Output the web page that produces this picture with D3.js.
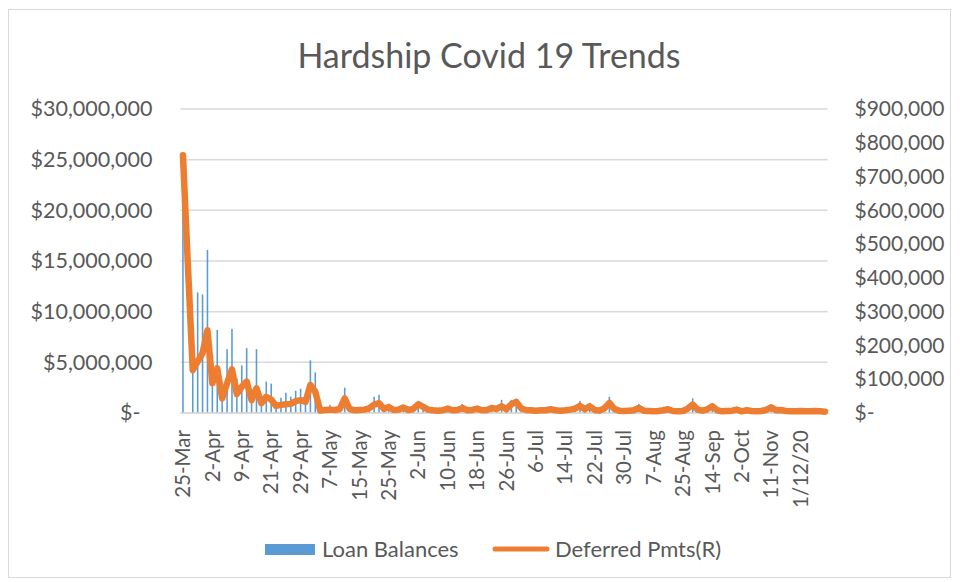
<!DOCTYPE html>
<html>
<head>
<meta charset="utf-8">
<script src="https://cdn.jsdelivr.net/npm/d3@7"></script>
<style>
  html, body { margin: 0; padding: 0; background: #fff; }
  svg { display: block; font-family: Lato, "Open Sans", sans-serif; }
  .tick text { fill: #595959; }
</style>
</head>
<body>
<svg id="chart" width="962" height="582"></svg>
<script>
/* Hardship Covid 19 trends — loan balances (bars) vs deferred payments (line, right axis). */

const categories = [
  "25-Mar", "26-Mar", "27-Mar", "30-Mar", "31-Mar", "1-Apr",
  "2-Apr", "3-Apr", "4-Apr", "6-Apr", "7-Apr", "8-Apr",
  "9-Apr", "14-Apr", "15-Apr", "16-Apr", "17-Apr", "20-Apr",
  "21-Apr", "22-Apr", "23-Apr", "24-Apr", "27-Apr", "28-Apr",
  "29-Apr", "30-Apr", "1-May", "4-May", "5-May", "6-May",
  "7-May", "8-May", "11-May", "12-May", "13-May", "14-May",
  "15-May", "18-May", "19-May", "20-May", "21-May", "22-May",
  "25-May", "26-May", "27-May", "28-May", "29-May", "1-Jun",
  "2-Jun", "3-Jun", "4-Jun", "5-Jun", "8-Jun", "9-Jun",
  "10-Jun", "11-Jun", "12-Jun", "15-Jun", "16-Jun", "17-Jun",
  "18-Jun", "19-Jun", "22-Jun", "23-Jun", "24-Jun", "25-Jun",
  "26-Jun", "29-Jun", "30-Jun", "1-Jul", "2-Jul", "3-Jul",
  "6-Jul", "7-Jul", "8-Jul", "9-Jul", "10-Jul", "13-Jul",
  "14-Jul", "15-Jul", "16-Jul", "17-Jul", "20-Jul", "21-Jul",
  "22-Jul", "23-Jul", "24-Jul", "27-Jul", "28-Jul", "29-Jul",
  "30-Jul", "31-Jul", "3-Aug", "4-Aug", "5-Aug", "6-Aug",
  "7-Aug", "10-Aug", "12-Aug", "14-Aug", "18-Aug", "21-Aug",
  "25-Aug", "28-Aug", "1-Sep", "4-Sep", "8-Sep", "11-Sep",
  "14-Sep", "16-Sep", "18-Sep", "22-Sep", "25-Sep", "29-Sep",
  "2-Oct", "8-Oct", "14-Oct", "20-Oct", "27-Oct", "3-Nov",
  "11-Nov", "17-Nov", "20-Nov", "24-Nov", "26-Nov", "30-Nov",
  "1/12/20", "2/12/20", "3/12/20", "4/12/20", "7/12/20", "8/12/20"
];

// labels Excel actually shows on the category axis
const tickLabels = [
  "25-Mar", "2-Apr", "9-Apr", "21-Apr", "29-Apr", "7-May", "15-May", "25-May",
  "2-Jun", "10-Jun", "18-Jun", "26-Jun", "6-Jul", "14-Jul", "22-Jul", "30-Jul",
  "7-Aug", "25-Aug", "14-Sep", "2-Oct", "11-Nov", "1/12/20"
];

// Loan Balances, $ millions
const loanBalances = [
  20.5, 0, 4.0, 11.9, 11.7, 16.1, 3.0, 8.2, 1.5, 6.3, 8.3, 3.4,
  4.7, 6.4, 1.6, 6.3, 1.0, 3.1, 2.9, 0.7, 1.5, 2.0, 1.6, 2.2,
  2.4, 1.2, 5.2, 4.0, 0.3, 0.4, 0.8, 0.3, 0.5, 2.5, 0.3, 0.2,
  0.3, 0.4, 0.5, 1.6, 1.8, 0.4, 0.9, 0.3, 0.4, 0.5, 0.3, 0.4,
  1.2, 0.9, 0.3, 0.2, 0.2, 0.3, 0.4, 0.2, 0.3, 0.9, 0.2, 0.3,
  0.4, 0.2, 0.3, 0.6, 0.4, 1.3, 0.4, 1.3, 1.4, 0.4, 0.3, 0.2,
  0.2, 0.3, 0.2, 0.3, 0.2, 0.2, 0.3, 0.4, 0.5, 1.2, 0.4, 1.0,
  0.3, 0.2, 0.5, 1.6, 0.4, 0.2, 0.2, 0.3, 0.3, 0.9, 0.2, 0.2,
  0.2, 0.3, 0.3, 0.4, 0.2, 0.2, 0.3, 0.5, 1.45, 0.4, 0.3, 0.4,
  1.0, 0.3, 0.2, 0.3, 0.3, 0.6, 0.2, 0.3, 0.2, 0.2, 0.3, 0.4,
  0.8, 0.3, 0.3, 0.2, 0.2, 0.2, 0.2, 0.2, 0.2, 0.2, 0.2, 0.2
];

// Deferred Pmts(R), $ thousands
const deferredPmts = [
  763, 440, 127, 152, 177, 245, 88, 132, 43, 88, 129, 56,
  78, 93, 38, 73, 29, 48, 40, 21, 24, 26, 27, 35,
  38, 33, 83, 63, 7, 9, 10, 9, 12, 43, 12, 8,
  9, 10, 14, 25, 29, 12, 18, 9, 10, 16, 9, 12,
  26, 18, 10, 8, 7, 8, 13, 8, 9, 15, 8, 9,
  13, 8, 9, 15, 12, 20, 11, 26, 33, 14, 9, 8,
  7, 8, 8, 11, 8, 7, 8, 10, 13, 21, 11, 20,
  9, 7, 14, 30, 12, 7, 6, 7, 8, 15, 7, 6,
  5, 6, 8, 11, 6, 5, 6, 13, 25, 10, 7, 11,
  20, 8, 5, 6, 7, 10, 5, 8, 6, 5, 6, 9,
  17, 8, 9, 6, 5, 5, 6, 5, 5, 6, 5, 4
];

const leftTicks = [0, 5e6, 10e6, 15e6, 20e6, 25e6, 30e6];
const rightTicks = [0, 1e5, 2e5, 3e5, 4e5, 5e5, 6e5, 7e5, 8e5, 9e5];

(function () {
  "use strict";

  const BLUE = "#5b9bd5";
  const ORANGE = "#ed7d31";
  const GRID = "#d9d9d9";
  const TEXT = "#595959";

  const svg = d3.select("#chart");
  const plot = { left: 180.5, right: 827.5, top: 109, bottom: 413 };

  const rows = categories.map((c, i) => ({
    cat: c,
    loan: loanBalances[i] * 1e6,
    pmts: deferredPmts[i] * 1e3
  }));

  const x = d3.scaleBand()
    .domain(categories)
    .range([plot.left, plot.right])
    .paddingInner(0.68)
    .paddingOuter(0.34);
  const xc = (c) => x(c) + x.bandwidth() / 2;

  const yL = d3.scaleLinear().domain([0, 30e6]).range([plot.bottom, plot.top]);
  const yR = d3.scaleLinear().domain([0, 9e5]).range([plot.bottom, plot.top]);

  const money = (v) => (v === 0 ? "$-" : "$" + d3.format(",")(v));

  // chart frame
  svg.append("rect")
    .attr("x", 8.5).attr("y", 9.5)
    .attr("width", 942).attr("height", 568)
    .attr("fill", "#fff").attr("stroke", GRID);

  svg.append("text")
    .attr("x", 489).attr("y", 68)
    .attr("text-anchor", "middle")
    .attr("font-size", 34)
    .attr("fill", TEXT)
    .text("Hardship Covid 19 Trends");

  // gridlines
  svg.append("g")
    .selectAll("line")
    .data(leftTicks)
    .join("line")
    .attr("x1", plot.left).attr("x2", plot.right)
    .attr("y1", (d) => yL(d)).attr("y2", (d) => yL(d))
    .attr("stroke", GRID).attr("stroke-width", 1.5);

  // left axis
  const gL = svg.append("g")
    .attr("transform", `translate(${plot.left},0)`)
    .call(d3.axisLeft(yL).tickValues(leftTicks).tickFormat(money).tickSize(0).tickPadding(28));
  gL.select(".domain").remove();
  gL.selectAll(".tick text").attr("font-size", 21.5).attr("font-family", "Lato")
    .attr("dx", (d) => (d === 0 ? -12 : 0));

  // right axis
  const gR = svg.append("g")
    .attr("transform", `translate(${plot.right},0)`)
    .call(d3.axisRight(yR).tickValues(rightTicks).tickFormat(money).tickSize(0).tickPadding(27));
  gR.select(".domain").remove();
  gR.selectAll(".tick text").attr("font-size", 21).attr("font-family", "Lato");

  // bars
  svg.append("g")
    .selectAll("rect")
    .data(rows)
    .join("rect")
    .attr("x", (d) => x(d.cat))
    .attr("width", x.bandwidth())
    .attr("y", (d) => yL(d.loan))
    .attr("height", (d) => plot.bottom - yL(d.loan))
    .attr("fill", BLUE);

  // category axis
  const gX = svg.append("g")
    .attr("transform", `translate(0,${plot.bottom})`)
    .call(d3.axisBottom(x).tickValues(tickLabels).tickSize(0));
  gX.select(".domain")
    .attr("d", `M${plot.left},0H${plot.right}`)
    .attr("stroke", GRID).attr("stroke-width", 1.5);
  gX.selectAll(".tick text")
    .attr("font-size", 20.5).attr("font-family", "Lato")
    .attr("transform", "rotate(-90)")
    .attr("text-anchor", "end")
    .attr("x", -17).attr("y", 0).attr("dy", "0.35em");

  // deferred payments line
  const line = d3.line()
    .x((d) => xc(d.cat))
    .y((d) => yR(d.pmts));
  svg.append("path")
    .datum(rows)
    .attr("d", line)
    .attr("fill", "none")
    .attr("stroke", ORANGE)
    .attr("stroke-width", 6.5)
    .attr("stroke-linejoin", "round")
    .attr("stroke-linecap", "round");

  // legend
  const lg = svg.append("g").attr("font-size", 22).attr("fill", TEXT);
  lg.append("rect").attr("x", 265).attr("y", 544).attr("width", 50).attr("height", 11).attr("fill", BLUE);
  lg.append("text").attr("x", 322).attr("y", 557).text("Loan Balances");
  lg.append("line")
    .attr("x1", 495).attr("x2", 547).attr("y1", 549).attr("y2", 549)
    .attr("stroke", ORANGE).attr("stroke-width", 5).attr("stroke-linecap", "round");
  lg.append("text").attr("x", 555).attr("y", 557).text("Deferred Pmts(R)");
})();
</script>
</body>
</html>
